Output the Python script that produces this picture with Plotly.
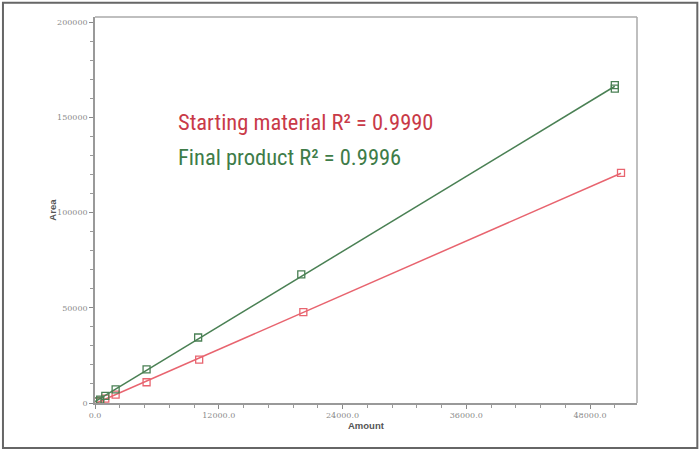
import numpy as np
import plotly.graph_objects as go

# calibration data
sm_amount = [250, 500, 1000, 2000, 5000, 10100, 20200, 51000]
sm_area = [700, 1300, 2300, 4400, 10900, 22800, 47700, 120900]
fp_amount = [250, 500, 1000, 2000, 5000, 10000, 20000, 50400, 50400]
fp_area = [900, 1800, 3700, 7200, 17700, 34400, 67600, 165200, 167000]

x_ticks = [0, 12000, 24000, 36000, 48000]
y_ticks = [0, 50000, 100000, 150000, 200000]

red_line = "#e8646f"
red_text = "#c93a48"
green_line = "#4a8054"
green_text = "#3e7c48"


def fit_line(x, y):
    k, b = np.polyfit(x, y, 1)
    xs = np.array([0, max(x)])
    return xs, k * xs + b


fig = go.Figure()

for xs, ys, col in [(sm_amount, sm_area, red_line), (fp_amount, fp_area, green_line)]:
    lx, ly = fit_line(xs, ys)
    fig.add_trace(go.Scatter(x=lx, y=ly, mode="lines",
                             line=dict(color=col, width=1.5), showlegend=False))
    fig.add_trace(go.Scatter(x=xs, y=ys, mode="markers",
                             marker=dict(symbol="square-open", size=7, color=col,
                                         line=dict(width=1.3, color=col)),
                             showlegend=False))

axis_font = dict(family="DejaVu Serif, serif", size=8, color="#8a8a8a")

fig.update_xaxes(
    range=[0, 52550], tickvals=x_ticks, tickformat=".1f",
    ticks="outside", ticklen=4, tickcolor="#888", tickfont=axis_font,
    showgrid=False, zeroline=False, showline=True, linecolor="#999", linewidth=1.5,
    minor=dict(dtick=2400, ticks="outside", ticklen=3, tickcolor="#999"),
)
fig.update_yaxes(
    range=[0, 202800], tickvals=y_ticks, tickformat="d",
    ticks="outside", ticklen=4, tickcolor="#888", tickfont=axis_font,
    showgrid=False, zeroline=False, showline=True, linecolor="#999", linewidth=1.5,
    minor=dict(dtick=10000, ticks="outside", ticklen=3, tickcolor="#999"),
)

# axis titles placed by hand to sit where the reference has them
title_font = dict(family="Liberation Sans, Arial", size=9.5, color="#555")
fig.add_annotation(x=0.5, y=-0.058, xref="paper", yref="paper", yanchor="middle",
                   text="<b>Amount</b>", showarrow=False, font=title_font)
fig.add_annotation(x=-0.08, y=0.5, xref="paper", yref="paper", xanchor="center",
                   text="<b>Area</b>", textangle=-90, showarrow=False, font=title_font)

text_font = "Liberation Sans Narrow, Roboto Condensed, Roboto, sans-serif"
fig.add_annotation(x=0.15, y=0.728, xref="paper", yref="paper", xanchor="left", yanchor="middle",
                   text="Starting material R² = 0.9990", showarrow=False,
                   font=dict(family=text_font, size=22.5, color=red_text))
fig.add_annotation(x=0.15, y=0.637, xref="paper", yref="paper", xanchor="left", yanchor="middle",
                   text="Final product R² = 0.9996", showarrow=False,
                   font=dict(family=text_font, size=22.5, color=green_text))

# light border on top and right of the plot area
fig.add_shape(type="line", xref="paper", yref="paper", x0=0, x1=1, y0=1, y1=1,
              line=dict(color="#aaa", width=1.5))
fig.add_shape(type="line", xref="paper", yref="paper", x0=1, x1=1, y0=0, y1=1,
              line=dict(color="#aaa", width=1.5))
# outer frame round the whole picture
fig.add_shape(type="rect", xref="paper", yref="paper",
              x0=-0.1698, x1=1.1113, y0=-0.1167, y1=1.037,
              line=dict(color="#666", width=2))

fig.update_layout(
    width=700, height=452,
    margin=dict(l=95, r=63, t=17, b=49),
    paper_bgcolor="white", plot_bgcolor="white",
    showlegend=False,
)

fig.write_html("out.html", config={"displayModeBar": False},
               post_script="document.body.style.margin='0';")
